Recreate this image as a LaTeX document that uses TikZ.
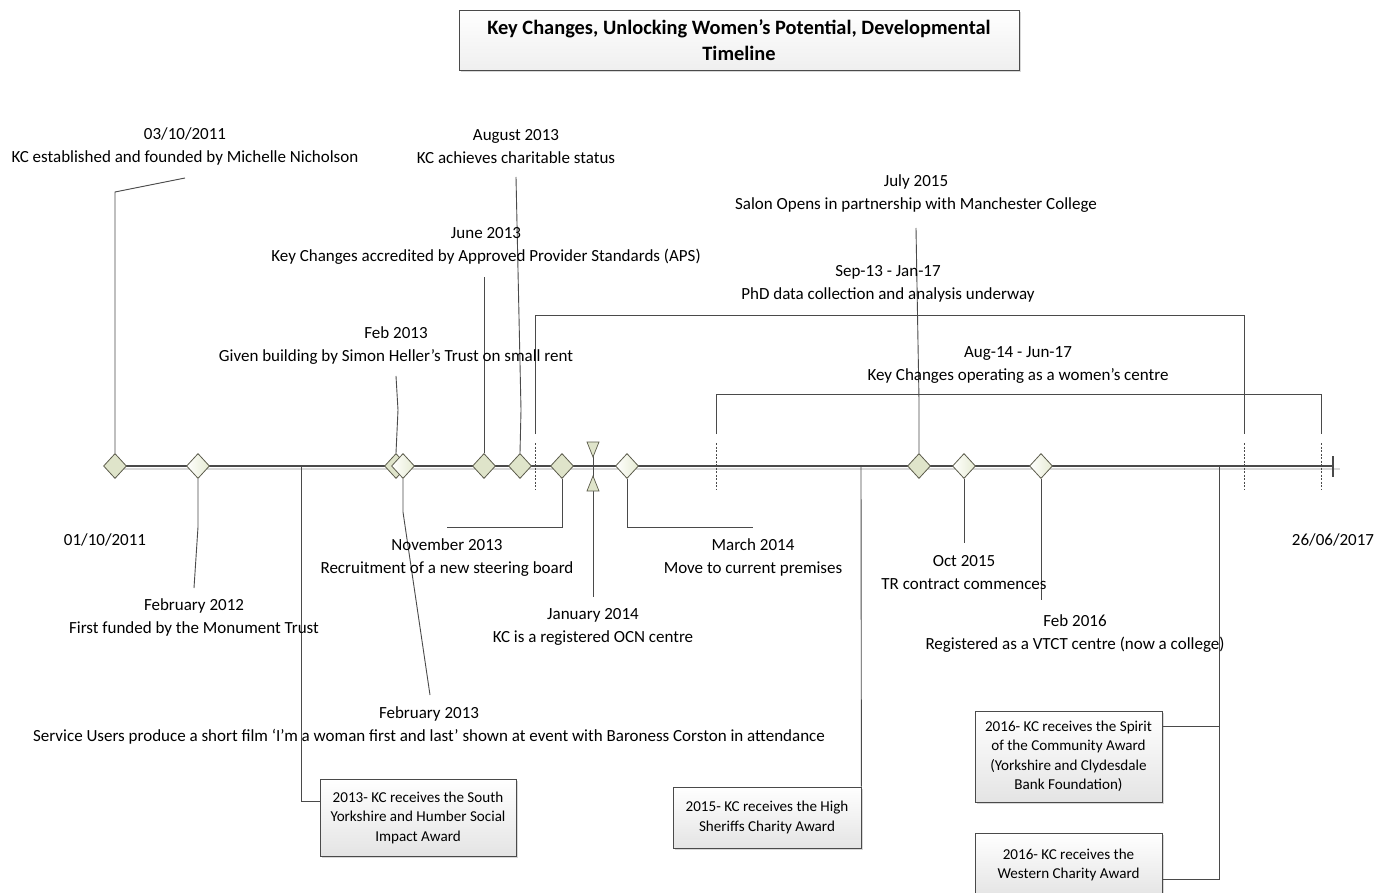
\documentclass[tikz,border=0pt]{standalone}
\usepackage{fontspec}
\setmainfont{Carlito}
\usetikzlibrary{shapes.geometric,shadows}
\definecolor{lnc}{HTML}{4A4A4A}
\definecolor{dbord}{HTML}{5C5C4C}
\definecolor{dfill}{HTML}{DFE4CA}
\definecolor{lfill}{HTML}{E6EBD2}
\definecolor{bxg}{HTML}{E4E4E4}
\begin{document}
\begin{tikzpicture}[x=1pt,y=-1pt,
  lbl/.style={font=\fontsize{17}{23}\selectfont, align=center, inner sep=0pt, text=black},
  conn/.style={draw=lnc, line width=0.9pt},
  axis/.style={draw=lnc, line width=1.3pt},
  dsh/.style={draw=lnc, line width=0.6pt, dash pattern=on 2pt off 1.5pt},
  dk/.style={diamond, draw=dbord, fill=dfill, line width=0.8pt, minimum width=23pt, minimum height=25pt, inner sep=0pt},
  lt/.style={diamond, draw=dbord, left color=white, right color=lfill, line width=0.8pt, minimum width=23pt, minimum height=25pt, inner sep=0pt},
  tri/.style={draw=dbord, fill=dfill, line width=0.7pt},
  abox/.style={draw=lnc, line width=0.8pt, top color=white, bottom color=bxg, align=center, inner sep=0pt,
    font=\fontsize{15.1}{19.5}\selectfont, drop shadow={shadow xshift=2pt, shadow yshift=-2pt, fill=gray!50, opacity=0.6}},
  tbox/.style={draw=lnc, line width=0.8pt, top color=white, bottom color=bxg!60, align=center, inner sep=0pt,
    font=\fontsize{20.4}{26}\selectfont\bfseries, drop shadow={shadow xshift=2pt, shadow yshift=-2pt, fill=gray!50, opacity=0.6}}
]
\useasboundingbox[fill=white] (0,0) rectangle (1385,893);

% title
\node[tbox, minimum width=560pt, minimum height=60pt] (title) at (739,40) {Key Changes, Unlocking Women’s Potential, Developmental\\Timeline};

% axis
\coordinate (axL) at (115,466);
\coordinate (axR) at (1333,466);
\draw[gray!30, line width=1.2pt] (115,469) -- (1340,469);
\draw[axis] (axL) -- (axR);
\draw[axis] (1333,456) -- (1333,477);

% interval markers
\coordinate (i1a) at (535,434); \coordinate (i1b) at (1244,434);
\coordinate (i2a) at (716,434); \coordinate (i2b) at (1321,434);
\draw[conn] (i1a) -- (535,315) -- (1244,315) -- (i1b);
\draw[conn] (i2a) -- (716,394) -- (1321,394) -- (i2b);
\draw[dsh] (535,443) -- (535,490);
\draw[dsh] (1244,443) -- (1244,490);
\draw[dsh] (716,443) -- (716,490);
\draw[dsh] (1321,443) -- (1321,490);

% award connectors
\coordinate (aw1) at (301,466);
\coordinate (aw2) at (861,466);
\coordinate (aw3) at (1219,466);

% award boxes
\node[abox, minimum width=196pt, minimum height=77pt] (b2013) at (418,817.5) {2013- KC receives the South\\Yorkshire and Humber Social\\Impact Award};
\node[abox, minimum width=188pt, minimum height=61pt] (b2015) at (767,817.5) {2015- KC receives the High\\Sheriffs Charity Award};
\node[abox, minimum width=187pt, minimum height=91pt] (bspirit) at (1068.5,756.5) {2016- KC receives the Spirit\\of the Community Award\\(Yorkshire and Clydesdale\\Bank Foundation)};
\node[abox, minimum width=187pt, minimum height=64pt] (bwest) at (1068.5,865) {2016- KC receives the\\Western Charity Award};

\draw[conn] (aw1) -- (301,801) -- (b2013.west |- 0,801);
\draw[conn] (aw2) -- (b2015.north east);
\draw[conn] (aw3) -- (1219,879) -- (bwest.east |- 0,879);
\draw[conn] (1219,726) -- (bspirit.east |- 0,726);

% Jan 2014 triangles
\draw[conn] (593,450) -- (593,597);
\draw[tri] (587,442) -- (599,442) -- (593,457) -- cycle;
\draw[tri] (593,476) -- (599,491) -- (587,491) -- cycle;

% diamonds
\node[dk] (d1) at (115,466) {};
\node[lt] (d2) at (198,466) {};
\node[dk] (d3a) at (396,466) {};
\node[lt] (d3b) at (403,466) {};
\node[dk] (d4) at (484,466) {};
\node[dk] (d5) at (520,466) {};
\node[dk] (d6) at (562,466) {};
\node[lt] (d8) at (627,466) {};
\node[dk] (d9) at (919,466) {};
\node[lt] (d10) at (964,466) {};
\node[lt] (d11) at (1041,466) {};

% connectors from diamonds
\draw[conn] (d1.north) -- (115,192) -- (185,178);
\draw[conn] (d2.south) -- (198,527) -- (194,588);
\draw[conn] (d3a.north) -- (398,410) -- (396,376);
\draw[conn] (d3b.south) -- (403,512) -- (430,695);
\draw[conn] (d4.north) -- (484,277);
\draw[conn] (d5.north) -- (521,410) -- (516,177);
\draw[conn] (d6.south) -- (562,527) -- (447,527);
\draw[conn] (d8.south) -- (627,527) -- (753,527);
\draw[conn] (d9.north) -- (919,400) -- (916,228);
\draw[conn] (d10.south) -- (964,543);
\draw[conn] (d11.south) -- (1041,600);

% labels
\node[lbl] (l1) at (185,146.5) {03/10/2011\\KC established and founded by Michelle Nicholson};
\node[lbl] (l5) at (516,146.5) {August 2013\\KC achieves charitable status};
\node[lbl] (l9) at (916,193.5) {July 2015\\Salon Opens in partnership with Manchester College};
\node[lbl] (l4) at (486,246) {June 2013\\Key Changes accredited by Approved Provider Standards (APS)};
\node[lbl] (li1) at (888,284) {Sep-13 - Jan-17\\PhD data collection and analysis underway};
\node[lbl] (l3a) at (396,345.5) {Feb 2013\\Given building by Simon Heller’s Trust on small rent};
\node[lbl] (li2) at (1018,365) {Aug-14 - Jun-17\\Key Changes operating as a women's centre};
\node[lbl] (ls) at (105,540) {01/10/2011};
\node[lbl] (le) at (1333,540) {26/06/2017};
\node[lbl] (l6) at (447,557.5) {November 2013\\Recruitment of a new steering board};
\node[lbl] (l8) at (753,557.5) {March 2014\\Move to current premises};
\node[lbl] (l10) at (964,572.5) {Oct 2015\\TR contract commences};
\node[lbl] (l2) at (194,617.5) {February 2012\\First funded by the Monument Trust};
\node[lbl] (l7) at (593,626.5) {January 2014\\KC is a registered OCN centre};
\node[lbl] (l11) at (1075,633.5) {Feb 2016\\Registered as a VTCT centre (now a college)};
\node[lbl] (l3b) at (429,725) {February 2013\\Service Users produce a short film ‘I’m a woman first and last’ shown at event with Baroness Corston in attendance};
\end{tikzpicture}
\end{document}
